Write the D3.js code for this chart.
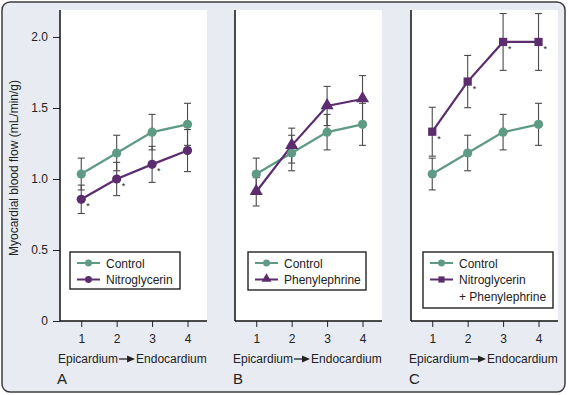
<!DOCTYPE html>
<html>
<head>
<meta charset="utf-8">
<script src="https://cdn.jsdelivr.net/npm/d3@7"></script>
<style>
    body { margin: 0; background: #fff; }
    text { font-family: "Liberation Sans", Arial, sans-serif; fill: #222; }
</style>
</head>
<body>
<div id="chart"></div>
<script>
// positions along the wall, 1 = epicardium ... 4 = endocardium
let layers = [1, 2, 3, 4];
let yTicks = [0, 0.5, 1.0, 1.5, 2.0];

// mean flow and error (mL/min/g)
let controlMean = [1.035, 1.183, 1.33, 1.385];
let controlErr = [0.112, 0.125, 0.125, 0.148];
let nitroMean = [0.857, 1.0, 1.103, 1.2];
let nitroErr = [0.1, 0.117, 0.127, 0.148];
let pheMean = [0.91, 1.235, 1.514, 1.563];
let pheErr = [0.1, 0.123, 0.138, 0.165];
let nitroPheMean = [1.333, 1.686, 1.965, 1.965];
let nitroPheErr = [0.172, 0.184, 0.2, 0.2];

// layers marked with an asterisk
let nitroStars = [1, 2, 3];
let nitroPheStars = [1, 2, 3, 4];

let panelLetters = ["A", "B", "C"];

const GREEN = "#5e9a84";
const PURPLE = "#5b2d6e";

let width = 568, height = 395;
let svg = d3.select("#chart").append("svg").attr("width", width).attr("height", height);

// outer frame
svg.append("rect").attr("x", 2).attr("y", 2).attr("width", 563).attr("height", 390)
    .attr("rx", 8).attr("fill", "#e8ecf2").attr("stroke", "#3c3c3c").attr("stroke-width", 1.5);

let plotTop = 10, plotBottom = 321, plotWidth = 147;
let y = d3.scaleLinear().domain([0, 2.19]).range([plotBottom, plotTop]);

function makeSeries(name, mean, err, symbol, stars) {
    return layers.map((l, i) => ({ layer: l, mean: mean[i], err: err[i] }))
        .map(d => Object.assign(d, { name: name, symbol: symbol, star: stars.includes(d.layer) }));
}

let control = { name: "Control", color: GREEN, symbol: "circle", data: makeSeries("Control", controlMean, controlErr, "circle", []) };
let panels = [
    { left: 60, legend: { dx: 10, w: 110, h: 37 }, series: [control,
        { name: ["Nitroglycerin"], color: PURPLE, symbol: "circle", data: makeSeries("Nitroglycerin", nitroMean, nitroErr, "circle", nitroStars) }] },
    { left: 235, legend: { dx: 13, w: 118, h: 38 }, series: [control,
        { name: ["Phenylephrine"], color: PURPLE, symbol: "triangle", data: makeSeries("Phenylephrine", pheMean, pheErr, "triangle", []) }] },
    { left: 411, legend: { dx: 12, w: 130, h: 56 }, series: [control,
        { name: ["Nitroglycerin", "+ Phenylephrine"], color: PURPLE, symbol: "square", data: makeSeries("NitroPhe", nitroPheMean, nitroPheErr, "square", nitroPheStars) }] }
];

function drawMarker(g, kind, cx, cy, color, scale) {
    if (kind === "circle") {
        g.append("circle").attr("cx", cx).attr("cy", cy).attr("r", 4.6 * scale).attr("fill", color);
    } else {
        let sym = kind === "square" ? d3.symbolSquare : d3.symbolTriangle;
        let size = kind === "square" ? 68 : 75;
        g.append("path").attr("d", d3.symbol().type(sym).size(size * scale * scale))
            .attr("transform", "translate(" + cx + "," + (kind === "triangle" ? cy - 0.5 : cy) + ")")
            .attr("fill", color);
    }
}

panels.forEach((p, pi) => {
    let g = svg.append("g");
    let x = d3.scaleLinear().domain([0.4, 4.55]).range([p.left, p.left + plotWidth]);

    // white plot area
    g.append("rect").attr("x", p.left).attr("y", plotTop).attr("width", plotWidth)
        .attr("height", plotBottom - plotTop).attr("fill", "#fff");

    // x axis ticks
    let xAxis = g.append("g").attr("transform", "translate(0," + plotBottom + ")")
        .call(d3.axisBottom(x).tickValues(layers).tickSize(6).tickPadding(7).tickFormat(d3.format("d")));
    xAxis.select(".domain").remove();
    xAxis.selectAll("line").attr("stroke", "#222");
    xAxis.selectAll("text").attr("font-size", 12).style("font-family", "Liberation Sans, Arial, sans-serif").attr("fill", "#222");

    // y axis only labelled on the first panel
    if (pi === 0) {
        let yAxis = g.append("g").attr("transform", "translate(" + p.left + ",0)")
            .call(d3.axisLeft(y).tickValues(yTicks).tickSize(7).tickPadding(5)
                .tickFormat(d => d === 0 ? "0" : d3.format(".1f")(d)));
        yAxis.select(".domain").remove();
        yAxis.selectAll("line").attr("stroke", "#222");
        yAxis.selectAll("text").attr("font-size", 12).style("font-family", "Liberation Sans, Arial, sans-serif").attr("fill", "#222");
    }

    // axis lines
    g.append("line").attr("x1", p.left).attr("x2", p.left).attr("y1", plotTop).attr("y2", plotBottom)
        .attr("stroke", "#111").attr("stroke-width", 1.5);
    g.append("line").attr("x1", p.left).attr("x2", p.left + plotWidth).attr("y1", plotBottom).attr("y2", plotBottom)
        .attr("stroke", "#111").attr("stroke-width", 1.5);

    let line = d3.line().x(d => x(d.layer)).y(d => y(d.mean));

    p.series.forEach(s => {
        g.append("path").datum(s.data).attr("d", line).attr("fill", "none")
            .attr("stroke", s.color).attr("stroke-width", 2.2);
    });

    // error bars
    p.series.forEach(s => {
        s.data.forEach(d => {
            let cx = x(d.layer);
            g.append("line").attr("x1", cx).attr("x2", cx).attr("y1", y(d.mean + d.err)).attr("y2", y(d.mean - d.err))
                .attr("stroke", "#4a4a4a").attr("stroke-width", 1.1);
            [d.mean + d.err, d.mean - d.err].forEach(v => {
                g.append("line").attr("x1", cx - 3.5).attr("x2", cx + 3.5).attr("y1", y(v)).attr("y2", y(v))
                    .attr("stroke", "#4a4a4a").attr("stroke-width", 1.1);
            });
        });
    });

    p.series.forEach(s => {
        s.data.forEach(d => {
            drawMarker(g, s.symbol, x(d.layer), y(d.mean), s.color, 1);
            if (d.star) {
                g.append("text").attr("x", x(d.layer) + 5).attr("y", y(d.mean) + 10)
                    .attr("font-size", 9).text("*");
            }
        });
    });

    // legend
    let lx = p.left + p.legend.dx, ly = 252;
    g.append("rect").attr("x", lx).attr("y", ly).attr("width", p.legend.w).attr("height", p.legend.h)
        .attr("fill", "#fff").attr("stroke", "#111").attr("stroke-width", 1.3);
    p.series.forEach((s, si) => {
        let ry = ly + 11 + si * 16.5;
        g.append("line").attr("x1", lx + 7).attr("x2", lx + 30).attr("y1", ry).attr("y2", ry)
            .attr("stroke", s.color).attr("stroke-width", 2);
        drawMarker(g, s.symbol, lx + 18.5, ry, s.color, 0.75);
        let names = Array.isArray(s.name) ? s.name : [s.name];
        names.forEach((n, ni) => {
            g.append("text").attr("x", lx + 36).attr("y", ry + 4.5 + ni * 16.5)
                .attr("font-size", 12).text(n);
        });
    });

    // Epicardium -> Endocardium caption
    let capY = 363;
    let t1 = g.append("text").attr("x", p.left - 2).attr("y", capY).attr("font-size", 12).text("Epicardium");
    let end1 = p.left - 2 + t1.node().getComputedTextLength();
    g.append("line").attr("x1", end1 + 1).attr("x2", end1 + 10).attr("y1", capY - 4).attr("y2", capY - 4)
        .attr("stroke", "#222").attr("stroke-width", 1.3);
    g.append("path").attr("d", "M" + (end1 + 9) + "," + (capY - 7.5) + "L" + (end1 + 17) + "," + (capY - 4)
        + "L" + (end1 + 9) + "," + (capY - 0.5) + "Z").attr("fill", "#222");
    g.append("text").attr("x", end1 + 18).attr("y", capY).attr("font-size", 12).text("Endocardium");

    // panel letter
    g.append("text").attr("x", p.left - (pi === 0 ? 3 : 2)).attr("y", 384).attr("font-size", 15).text(panelLetters[pi]);
});

// y axis title
svg.append("text").attr("transform", "translate(18,168) rotate(-90)").attr("text-anchor", "middle")
    .attr("font-size", 12).text("Myocardial blood flow (mL/min/g)");
</script>
</body>
</html>
